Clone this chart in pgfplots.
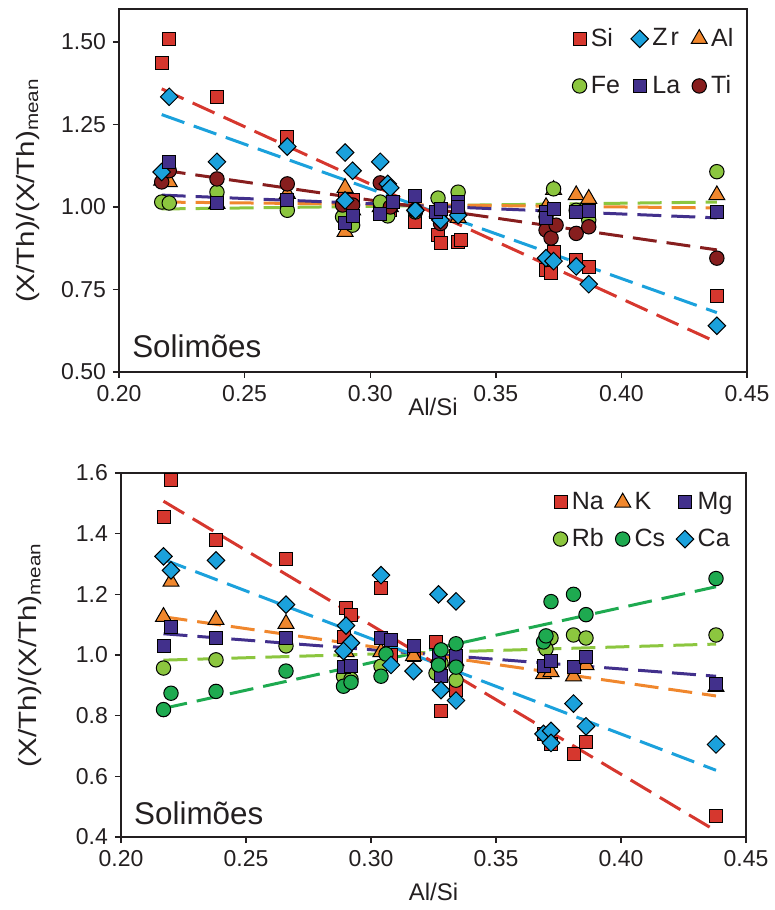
\documentclass[border=0pt]{standalone}
\usepackage{fontspec}
\setmainfont{Liberation Sans}
\usepackage{pgfplots}
\pgfplotsset{compat=1.18}
\definecolor{cSi}{RGB}{214,55,46}
\definecolor{cZr}{RGB}{27,161,220}
\definecolor{cAl}{RGB}{240,135,45}
\definecolor{cFe}{RGB}{140,198,63}
\definecolor{cLa}{RGB}{66,48,140}
\definecolor{cTi}{RGB}{135,30,30}
\definecolor{cCs}{RGB}{30,170,80}
\definecolor{txt}{RGB}{35,31,32}
\pgfplotsset{
  base/.style={
    scale only axis, anchor=south west,
    xmin=0.2, xmax=0.45,
    xtick={0.2,0.25,0.3,0.35,0.4,0.45},
    xticklabel style={/pgf/number format/fixed,/pgf/number format/fixed zerofill,/pgf/number format/precision=2},
    tick pos=left, tick align=outside, major tick length=3pt,
    axis line style={line width=0.9pt, txt},
    tick style={line width=0.7pt, txt},
    /pgf/number format/assume math mode=true,
    tick label style={font=\fontsize{11.5}{13}\selectfont, text=txt},
    xlabel style={font=\fontsize{12}{14}\selectfont, text=txt},
    ylabel style={font=\fontsize{12.5}{14}\selectfont, text=txt},
    xlabel={Al/Si},
    ylabel={(X/Th)/(X/Th)\textsubscript{mean}},
    ylabel style={at={(axis description cs:-0.145,0.5)}, anchor=center, xscale=1.18},
    legend columns=3,
    legend cell align=left,
    legend image code/.code={\draw[#1] plot coordinates {(0pt,0pt)};},
    legend style={draw=none, fill=none, font=\fontsize{12.5}{14}\selectfont, text=txt,
      /tikz/every even column/.append style={column sep=3.5pt}},
  },
  trend/.style={forget plot, no marks, line width=1.5pt, dash pattern=on 12pt off 5pt},
  msq/.style={only marks, mark=square*, mark size=3.25pt, mark options={draw=black, line width=0.5pt}},
  mci/.style={only marks, mark=*, mark size=3.6pt, mark options={draw=black, line width=0.5pt}},
  mdi/.style={only marks, mark=square*, mark size=3.1pt, mark options={rotate=45, draw=black, line width=0.5pt}},
  mtr/.style={only marks, mark=triangle*, mark size=4.6pt, mark options={draw=black, line width=0.5pt}},
}
\begin{document}
\begin{tikzpicture}[x=1pt,y=1pt]
\useasboundingbox (0,0) rectangle (387.5,455);
% ---------------- top panel ----------------
\begin{axis}[base, at={(59.5pt,269pt)}, width=314pt, height=181.5pt,
  ymin=0.5, ymax=1.6, ytick={0.5,0.75,1.0,1.25,1.5},
  yticklabel style={/pgf/number format/fixed,/pgf/number format/fixed zerofill,/pgf/number format/precision=2},
  xlabel style={at={(axis description cs:0.5,-0.095)}, anchor=center},
  legend style={at={(rel axis cs:0.995,0.97)}, anchor=north east, /tikz/row sep=9pt}]
\addlegendimage{msq, fill=cSi}\addlegendentry{Si}
\addlegendimage{mdi, fill=cZr}\addlegendentry{Z\kern1.5pt r}
\addlegendimage{mtr, fill=cAl}\addlegendentry{Al}
\addlegendimage{mci, fill=cFe}\addlegendentry{Fe}
\addlegendimage{msq, fill=cLa}\addlegendentry{La}
\addlegendimage{mci, fill=cTi}\addlegendentry{Ti}
% trend lines
\addplot[trend, cFe] coordinates {(0.217,0.994)(0.438,1.015)};
\addplot[trend, cAl] coordinates {(0.217,1.015)(0.438,0.997)};
\addplot[trend, cLa] coordinates {(0.217,1.036)(0.438,0.967)};
\addplot[trend, cTi] coordinates {(0.217,1.112)(0.438,0.87)};
\addplot[trend, cZr] coordinates {(0.217,1.28)(0.438,0.68)};
\addplot[trend, cSi] coordinates {(0.217,1.358)(0.438,0.59)};
% Si
\addplot[msq, forget plot, fill=cSi] coordinates {
(0.217,1.435)(0.220,1.51)(0.239,1.334)(0.267,1.213)(0.290,1.03)(0.293,1.02)
(0.304,1.0)(0.308,0.99)(0.318,0.955)(0.327,0.915)(0.328,0.89)(0.335,0.895)
(0.336,0.90)(0.370,0.81)(0.372,0.80)(0.373,0.863)(0.382,0.84)(0.387,0.817)(0.438,0.73)};
% Al
\addplot[mtr, forget plot, fill=cAl] coordinates {
(0.217,1.08)(0.220,1.076)(0.239,1.01)(0.267,1.04)(0.290,1.058)(0.290,0.925)
(0.293,0.99)(0.304,1.0)(0.308,1.0)(0.318,1.0)(0.327,0.99)(0.335,0.967)
(0.370,1.0)(0.373,1.052)(0.382,1.036)(0.387,1.025)(0.438,1.036)};
% Fe
\addplot[mci, forget plot, fill=cFe] coordinates {
(0.217,1.015)(0.220,1.012)(0.239,1.045)(0.267,0.99)(0.289,0.97)(0.293,0.945)
(0.304,1.015)(0.307,0.973)(0.318,0.985)(0.327,1.027)(0.335,1.045)(0.370,0.97)
(0.373,1.055)(0.382,0.99)(0.387,0.96)(0.438,1.107)};
% Ti
\addplot[mci, forget plot, fill=cTi] coordinates {
(0.217,1.076)(0.220,1.11)(0.239,1.085)(0.267,1.07)(0.289,1.006)(0.293,1.006)
(0.304,1.073)(0.308,1.0)(0.318,0.99)(0.328,0.95)(0.335,0.98)(0.370,0.93)
(0.372,0.906)(0.374,0.945)(0.382,0.92)(0.387,0.94)(0.438,0.845)};
% Zr
\addplot[mdi, forget plot, fill=cZr] coordinates {
(0.217,1.106)(0.220,1.334)(0.239,1.137)(0.267,1.183)(0.290,1.165)(0.293,1.11)
(0.290,1.02)(0.304,1.137)(0.307,1.07)(0.308,1.058)(0.318,0.99)(0.327,0.97)
(0.328,0.96)(0.335,0.975)(0.370,0.845)(0.373,0.836)(0.382,0.82)(0.387,0.766)(0.438,0.64)};
% La
\addplot[msq, forget plot, fill=cLa] coordinates {
(0.220,1.137)(0.239,1.012)(0.267,1.02)(0.290,0.95)(0.293,0.973)(0.304,0.98)
(0.309,1.015)(0.318,1.033)(0.326,0.985)(0.328,0.993)(0.335,1.015)(0.335,1.0)
(0.370,0.985)(0.370,0.967)(0.373,0.993)(0.382,0.985)(0.387,0.988)(0.438,0.985)};
\node[anchor=south west, inner sep=3.3pt, font=\fontsize{15.7}{18}\selectfont, text=txt]
  at (rel axis cs:0.01,0.02) {Solimões};
\end{axis}
% ---------------- bottom panel ----------------
\begin{axis}[base, at={(60.5pt,36.5pt)}, width=312.5pt, height=182pt,
  ymin=0.4, ymax=1.6, ytick={0.4,0.6,0.8,1.0,1.2,1.4,1.6},
  yticklabel style={/pgf/number format/fixed,/pgf/number format/fixed zerofill,/pgf/number format/precision=1},
  xlabel style={at={(axis description cs:0.5,-0.15)}, anchor=center},
  legend style={at={(rel axis cs:0.995,0.97)}, anchor=north east, /tikz/row sep=4pt}]
\addlegendimage{msq, fill=cSi}\addlegendentry{Na}
\addlegendimage{mtr, fill=cAl}\addlegendentry{K}
\addlegendimage{msq, fill=cLa}\addlegendentry{Mg}
\addlegendimage{mci, fill=cFe}\addlegendentry{Rb}
\addlegendimage{mci, fill=cCs}\addlegendentry{Cs}
\addlegendimage{mdi, fill=cZr}\addlegendentry{Ca}
% trend lines
\addplot[trend, cCs] coordinates {(0.217,0.824)(0.438,1.225)};
\addplot[trend, cFe] coordinates {(0.217,0.983)(0.438,1.036)};
\addplot[trend, cLa] coordinates {(0.217,1.07)(0.438,0.93)};
\addplot[trend, cAl] coordinates {(0.217,1.126)(0.438,0.865)};
\addplot[trend, cZr] coordinates {(0.217,1.315)(0.438,0.62)};
\addplot[trend, cSi] coordinates {(0.217,1.507)(0.438,0.42)};
% Na
\addplot[msq, forget plot, fill=cSi] coordinates {
(0.217,1.454)(0.220,1.577)(0.238,1.378)(0.266,1.318)(0.290,1.156)(0.292,1.133)
(0.289,1.06)(0.304,1.222)(0.308,1.0)(0.317,1.0)(0.326,1.043)(0.328,0.817)
(0.334,0.884)(0.369,0.74)(0.372,0.705)(0.381,0.672)(0.386,0.714)(0.438,0.47)};
% K
\addplot[mtr, forget plot, fill=cAl] coordinates {
(0.217,1.126)(0.220,1.242)(0.238,1.116)(0.266,1.103)(0.290,1.01)(0.304,1.01)
(0.317,0.997)(0.327,0.99)(0.334,0.98)(0.369,0.937)(0.372,0.944)(0.381,0.93)
(0.386,0.967)(0.438,0.895)};
% Rb
\addplot[mci, forget plot, fill=cFe] coordinates {
(0.217,0.957)(0.238,0.984)(0.266,1.03)(0.289,0.93)(0.292,0.92)(0.304,0.963)
(0.326,0.94)(0.328,0.973)(0.334,0.917)(0.370,1.053)(0.372,1.056)(0.370,1.02)
(0.381,1.066)(0.386,1.056)(0.438,1.066)};
% Mg
\addplot[msq, forget plot, fill=cLa] coordinates {
(0.217,1.03)(0.220,1.093)(0.238,1.056)(0.266,1.056)(0.289,0.96)(0.292,0.964)
(0.304,1.056)(0.308,1.05)(0.317,1.03)(0.327,0.997)(0.328,0.93)(0.334,0.997)
(0.369,0.963)(0.372,0.98)(0.381,0.96)(0.386,0.993)(0.438,0.904)};
% Cs
\addplot[mci, forget plot, fill=cCs] coordinates {
(0.217,0.82)(0.220,0.874)(0.238,0.88)(0.266,0.947)(0.289,0.897)(0.292,0.91)
(0.304,0.93)(0.306,1.003)(0.327,0.967)(0.328,1.017)(0.334,1.037)(0.334,0.96)
(0.369,1.043)(0.370,1.063)(0.372,1.176)(0.381,1.2)(0.386,1.133)(0.438,1.252)};
% Ca
\addplot[mdi, forget plot, fill=cZr] coordinates {
(0.217,1.325)(0.220,1.279)(0.238,1.312)(0.266,1.166)(0.290,1.097)(0.292,1.04)
(0.289,1.013)(0.304,1.263)(0.308,0.967)(0.317,0.947)(0.327,1.2)(0.334,1.177)
(0.328,0.884)(0.334,0.85)(0.369,0.74)(0.372,0.75)(0.372,0.71)(0.381,0.84)
(0.386,0.765)(0.438,0.705)};
\node[anchor=south west, inner sep=3.3pt, font=\fontsize{15.7}{18}\selectfont, text=txt]
  at (rel axis cs:0.01,0.015) {Solimões};
\end{axis}
\end{tikzpicture}
\end{document}
